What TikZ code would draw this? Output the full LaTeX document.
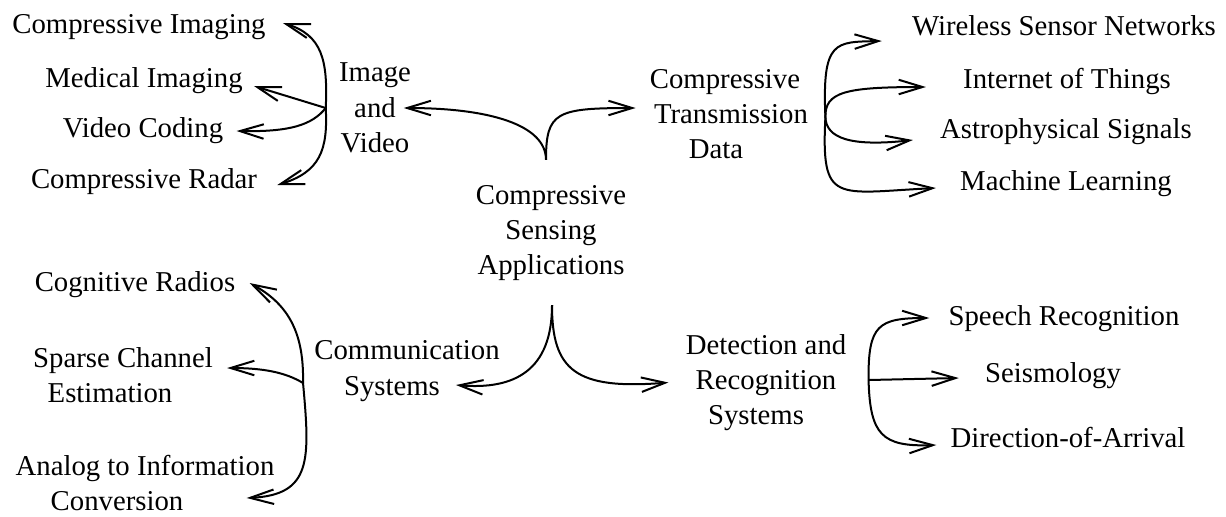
\documentclass[tikz,border=0pt]{standalone}
\usepackage{fontspec}
\setmainfont{Liberation Serif}
\usetikzlibrary{arrows.meta}

\begin{document}
\begin{tikzpicture}[x=0.4pt, y=-0.4pt,
    every node/.style={font=\fontsize{11.5}{14.1}\selectfont},
    item/.style={anchor=base},
    group/.style={align=center},
    link/.style={-{Straight Barb[length=9.5pt,width=5.8pt]}, line width=0.8pt}]
  \useasboundingbox (0,0) rectangle (1226,516);
  %
  \node[group] (csa) at (551,233) {Compressive\\Sensing\\Applications};   % centre
  \node[group] (imgvid) at (375,108) {Image\\and\\Video};                 % top left
  \node[group] (ctd) at (731,114) {Compressive\hspace*{4.8pt}\\Transmission\\Data\hspace*{12pt}};   % top right
  \node[group] (comsys) at (407,371) {Communication\\Systems\hspace*{12pt}};   % bottom left
  \node[group] (detrec) at (766,382.5) {Detection and\\Recognition\hspace*{8pt}\\Systems\hspace*{8pt}};   % bottom right
  %%
  \node[item] (cimg) at (139,33) {Compressive Imaging};
  \node[item] (medimg) at (144,87) {Medical Imaging};
  \node[item] (vidcod) at (143,137) {Video Coding};
  \node[item] (crad) at (144,188) {Compressive Radar};
  %
  \node[item] (wsn) at (1064,35) {Wireless Sensor Networks};
  \node[item] (iot) at (1067,88) {Internet of Things};
  \node[item] (astro) at (1066,138) {Astrophysical Signals};
  \node[item] (mlearn) at (1066,190) {Machine Learning};
  %
  \node[item] (cogrd) at (135,291) {Cognitive Radios};
  \node[group] (sparse) at (123,375) {Sparse Channel\\Estimation\hspace*{10.4pt}};
  \node[group] (atoi) at (145,483) {Analog to Information\\Conversion\hspace*{22.4pt}};
  %
  \node[item] (speech) at (1064,325) {Speech Recognition};
  \node[item] (seism) at (1053,382) {Seismology};
  \node[item] (doa) at (1068,447) {Direction-of-Arrival};
  %%
  \coordinate (topstem) at ([shift={(-5,-16.5)}]csa.north);
  \coordinate (botstem) at ([shift={(1,15.5)}]csa.south);
  \coordinate (hubI) at ([shift={(-4.5,0)}]imgvid.west);
  \coordinate (hubT) at ([shift={(4.5,3)}]ctd.east);
  \coordinate (hubC) at ([shift={(-2.5,12)}]comsys.west);
  \coordinate (hubD) at ([shift={(13.5,-2.5)}]detrec.east);
  %
  \draw[link] (topstem) .. controls (546,125) and (490,108) .. ([shift={(-16,0)}]imgvid.east);
  \draw[link] (topstem) .. controls (546,112) and (556,108) .. ([shift={(-5.5,-6)}]ctd.west);
  \draw[link] (botstem) .. controls (552,370) and (515,390) .. ([shift={(-52.5,14)}]comsys.east);
  \draw[link] (botstem) .. controls (552,370) and (575,390) .. ([shift={(-8.5,0)}]detrec.west);
  %
  \draw[link] (hubI) .. controls (328,60) and (322,35) .. ([shift={(8.5,-10)}]cimg.base east);
  \draw[link] (hubI) -- ([shift={(2.5,-1)}]medimg.base east);
  \draw[link] (hubI) .. controls (312,125) and (290,132) .. ([shift={(4.5,-6)}]vidcod.base east);
  \draw[link] (hubI) .. controls (328,150) and (320,172) .. ([shift={(11.5,-3)}]crad.base east);
  %
  \draw[link] (hubT) .. controls (822,40) and (835,42) .. ([shift={(-21.5,6)}]wsn.base west);
  \draw[link] (hubT) .. controls (825,92) and (845,87) .. ([shift={(-28.5,-1)}]iot.base west);
  \draw[link] (hubT) .. controls (826,138) and (850,147) .. ([shift={(-18.5,2)}]astro.base west);
  \draw[link] (hubT) .. controls (821,205) and (835,193) .. ([shift={(-15.5,-2)}]mlearn.base west);
  %
  \draw[link] (hubC) .. controls (304,335) and (290,305) .. ([shift={(5.5,-8)}]cogrd.base east);
  \draw[link] (hubC) .. controls (285,372) and (262,368) .. ([shift={(5.5,-7)}]sparse.east);
  \draw[link] (hubC) .. controls (310,460) and (312,495) .. ([shift={(-36.5,15)}]atoi.east);
  %
  \draw[link] (hubD) .. controls (868,325) and (878,318) .. ([shift={(-10.5,-7)}]speech.base west);
  \draw[link] (hubD) -- ([shift={(-17.5,-4)}]seism.base west);
  \draw[link] (hubD) .. controls (870,435) and (882,447) .. ([shift={(-5.5,-2)}]doa.base west);
\end{tikzpicture}
\end{document}
